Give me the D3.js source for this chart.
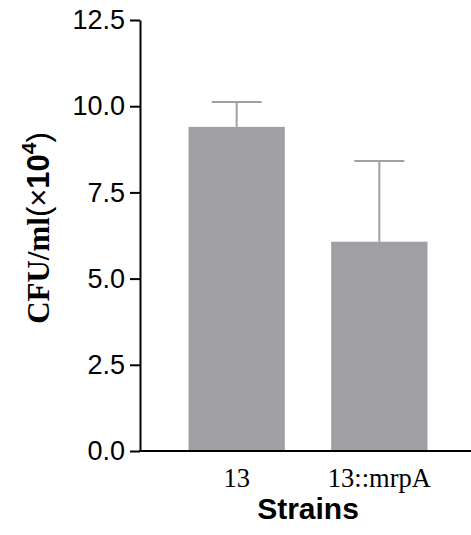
<!DOCTYPE html>
<html>
<head>
<meta charset="utf-8">
<script src="https://cdn.jsdelivr.net/npm/d3@7"></script>
<style>
  body { margin: 0; background: #fff; }
  svg { display: block; }
</style>
</head>
<body>
<div id="chart"></div>
<script>
// datos del grafico
var strains = ["13", "13::mrpA"];
var means = [9.4, 6.07];
var errors = [0.72, 2.34];
var yTicks = [0, 2.5, 5, 7.5, 10, 12.5];

var width = 471, height = 535;
var barColor = "#a09fa4";
var sans = "'Liberation Sans', Arial, sans-serif";
var serif = "'Liberation Serif', 'Times New Roman', serif";

var svg = d3.select("#chart").append("svg")
    .attr("width", width)
    .attr("height", height);

var x = d3.scaleBand()
    .domain(strains)
    .range([140, 476])
    .paddingInner(0.325)
    .paddingOuter(0.34);

var y = d3.scaleLinear()
    .domain([0, 12.5])
    .range([451, 20]);

// barras
svg.selectAll("rect.bar")
    .data(strains)
    .enter().append("rect")
    .attr("class", "bar")
    .attr("x", function (d) { return x(d); })
    .attr("width", x.bandwidth())
    .attr("y", function (d, i) { return y(means[i]); })
    .attr("height", function (d, i) { return y(0) - y(means[i]); })
    .attr("fill", barColor);

// barras de error (solo hacia arriba)
var err = svg.selectAll("g.err")
    .data(strains)
    .enter().append("g")
    .attr("class", "err")
    .attr("stroke", barColor)
    .attr("stroke-width", 2);

err.append("line")
    .attr("x1", function (d) { return x(d) + x.bandwidth() / 2; })
    .attr("x2", function (d) { return x(d) + x.bandwidth() / 2; })
    .attr("y1", function (d, i) { return y(means[i]); })
    .attr("y2", function (d, i) { return y(means[i] + errors[i]); });

err.append("line")
    .attr("x1", function (d) { return x(d) + x.bandwidth() / 2 - 25; })
    .attr("x2", function (d) { return x(d) + x.bandwidth() / 2 + 25; })
    .attr("y1", function (d, i) { return y(means[i] + errors[i]); })
    .attr("y2", function (d, i) { return y(means[i] + errors[i]); });

// eje y
var yAxis = svg.append("g")
    .attr("transform", "translate(140,0)")
    .call(d3.axisLeft(y)
        .tickValues(yTicks)
        .tickFormat(d3.format(".1f"))
        .tickSize(10)
        .tickPadding(5)
        .tickSizeOuter(0));

yAxis.select(".domain").attr("stroke", "#000").attr("stroke-width", 2);
yAxis.selectAll(".tick line").attr("stroke", "#000").attr("stroke-width", 2);
yAxis.selectAll(".tick text")
    .attr("fill", "#000")
    .style("font-family", sans)
    .style("font-size", "27px");

// eje x
var xAxis = svg.append("g")
    .attr("transform", "translate(0,451)")
    .call(d3.axisBottom(x).tickSize(0).tickPadding(12).tickSizeOuter(0));

xAxis.select(".domain").remove();
xAxis.append("line")
    .attr("x1", 139)
    .attr("x2", width)
    .attr("stroke", "#000")
    .attr("stroke-width", 2);
xAxis.selectAll(".tick text")
    .attr("fill", "#000")
    .attr("dy", null)
    .attr("y", 36)
    .style("font-family", serif)
    .style("font-size", "26.5px");

// titulos
svg.append("text")
    .attr("x", 308)
    .attr("y", 519)
    .attr("text-anchor", "middle")
    .style("font-family", sans)
    .style("font-weight", "bold")
    .style("font-size", "30px")
    .text("Strains");

var yTitle = svg.append("text")
    .attr("transform", "translate(49,228) rotate(-90)")
    .attr("text-anchor", "middle")
    .style("font-weight", "bold")
    .style("font-size", "31px");

yTitle.append("tspan")
    .style("font-family", serif)
    .text("CFU/ml");
yTitle.append("tspan")
    .style("font-family", sans)
    .style("font-weight", "normal")
    .text("(\u00d7");
yTitle.append("tspan")
    .style("font-family", sans)
    .text("10");
yTitle.append("tspan")
    .style("font-family", sans)
    .style("font-size", "21px")
    .attr("dy", -13)
    .text("4");
yTitle.append("tspan")
    .style("font-family", sans)
    .style("font-weight", "normal")
    .attr("dy", 13)
    .text(")");
</script>
</body>
</html>
